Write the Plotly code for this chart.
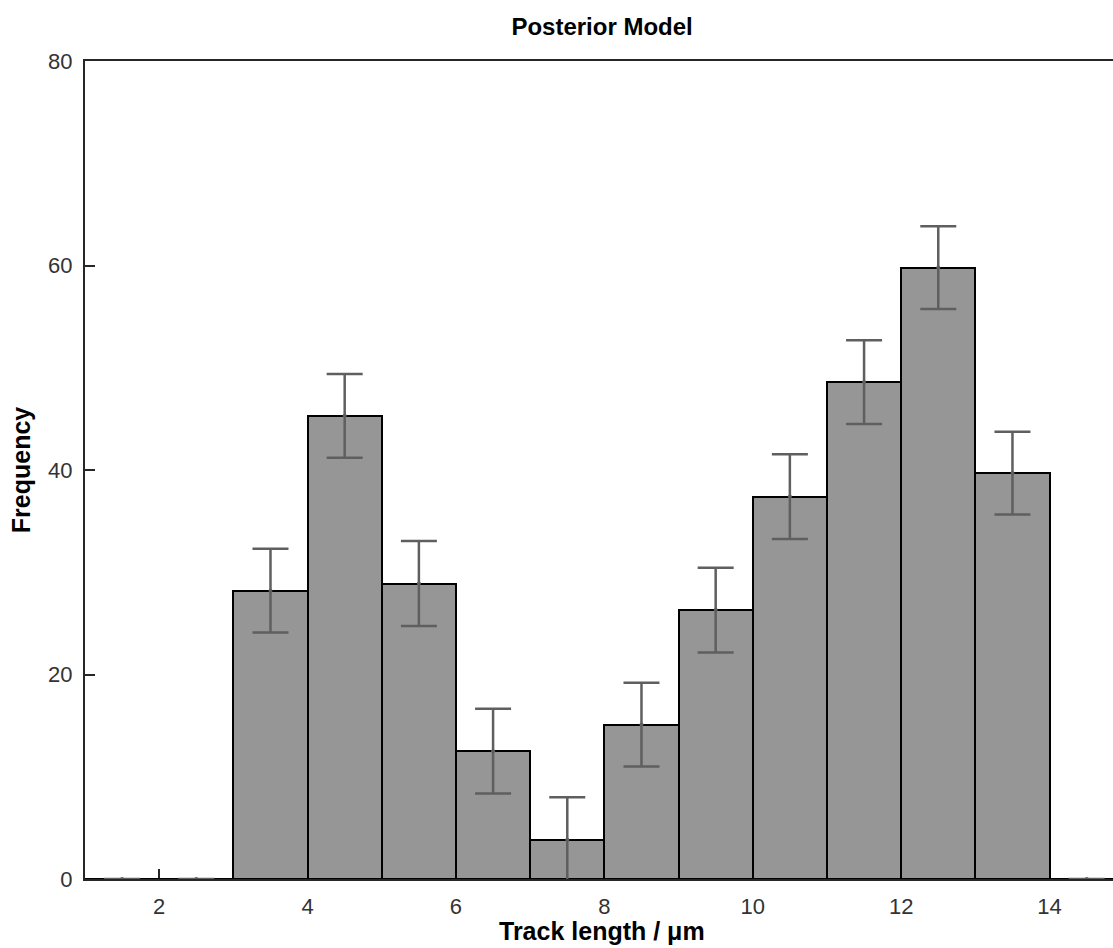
import plotly.graph_objects as go

# Data (bin centres, counts, error half-widths)
bin_centers = [1.5, 2.5, 3.5, 4.5, 5.5, 6.5, 7.5, 8.5, 9.5, 10.5, 11.5, 12.5, 13.5, 14.5]
frequency = [0, 0, 28.2, 45.3, 28.9, 12.5, 3.85, 15.1, 26.3, 37.4, 48.6, 59.8, 39.7, 0]
errors = [0, 0, 4.1, 4.1, 4.15, 4.15, 4.15, 4.1, 4.15, 4.15, 4.1, 4.05, 4.05, 0]
x_ticks = [2, 4, 6, 8, 10, 12, 14]
y_ticks = [0, 20, 40, 60, 80]

FONT = "Liberation Sans"

fig = go.Figure()
fig.add_trace(go.Bar(
    x=bin_centers, y=frequency, width=1,
    marker=dict(color="#969696", line=dict(color="#000000", width=2)),
    showlegend=False, hoverinfo="skip",
))
fig.add_trace(go.Scatter(
    x=bin_centers, y=frequency, mode="markers",
    marker=dict(color="#5f5f5f", size=4),
    error_y=dict(type="data", array=errors, visible=True,
                 color="#5f5f5f", thickness=2.5, width=18),
    showlegend=False, hoverinfo="skip",
))

fig.update_layout(
    width=1113, height=948,
    margin=dict(l=85, r=0, t=61, b=69, autoexpand=False),
    paper_bgcolor="white", plot_bgcolor="white",
    bargap=0,
    font=dict(family=FONT, color="#262626"),
    title=dict(text="<b>Posterior Model</b>", x=0.503, xref="paper", xanchor="center",
               y=1 - 18 / 948, yref="container", yanchor="top",
               font=dict(family=FONT, size=24, color="#000000")),
    annotations=[dict(
        text="<b>Track length / μm</b>", xref="paper", yref="paper",
        x=0.503, y=-0.0636, xanchor="center", yanchor="middle", showarrow=False,
        font=dict(size=25, color="#000000", family=FONT),
    )],
)
fig.update_xaxes(
    range=[1, 14.855], tickvals=x_ticks, ticktext=[str(v) for v in x_ticks],
    showgrid=False, zeroline=False,
    showline=True, linecolor="#262626", linewidth=2, mirror=True,
    ticks="inside", ticklen=10, tickwidth=1.5, tickcolor="#262626",
    tickfont=dict(size=22, color="#333333", family=FONT),
    ticklabelstandoff=7,
    layer="below traces",
)
fig.update_yaxes(
    range=[0, 80], tickvals=y_ticks, ticktext=[str(v) for v in y_ticks],
    showgrid=False, zeroline=False,
    showline=True, linecolor="#262626", linewidth=2, mirror=False,
    ticks="inside", ticklen=10, tickwidth=1.5, tickcolor="#262626",
    tickfont=dict(size=22, color="#333333", family=FONT),
    ticklabelstandoff=6,
    layer="below traces",
    title=dict(text="<b>Frequency</b>", standoff=10,
               font=dict(size=25, color="#000000", family=FONT)),
)

fig.write_html("out.html")
